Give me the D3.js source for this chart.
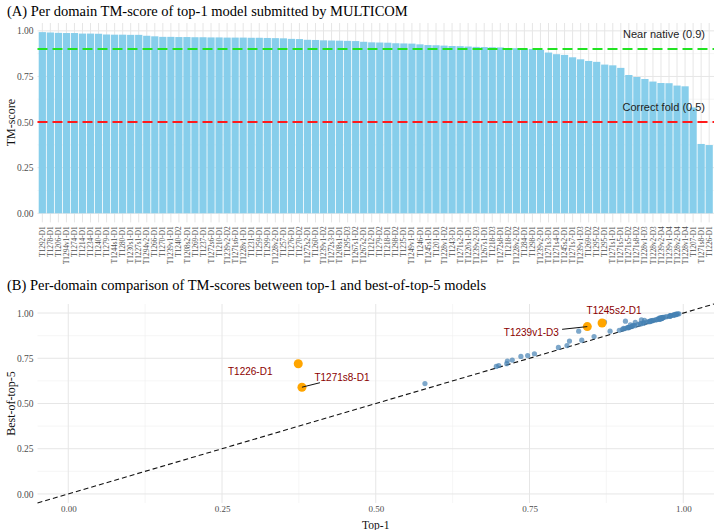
<!DOCTYPE html>
<html>
<head>
<meta charset="utf-8">
<script src="https://cdn.jsdelivr.net/npm/d3@7"></script>
<style>
body { margin: 0; background: #fff; }
text { font-family: "Liberation Serif", "DejaVu Serif", serif; }
</style>
</head>
<body>
<div id="chart"></div>
<script>
var W = 720, H = 530

// domains, in the order of the bars (sorted by top-1 TM-score)
var domains = ["T1292-D1","T1278-D1","T1206-D1","T1294v1-D1","T1274-D1","T1214-D1","T1234-D1","T1240-D1","T1279-D1","T1244s1-D1",
  "T1280-D1","T1230s1-D1","T1227s1-D1","T1294v2-D1","T1266-D1","T1270-D1","T1239v1-D1","T1240-D2","T1208s2-D1","T1269-D1",
  "T1237-D1","T1272s6-D1","T1210-D1","T1239v2-D2","T1271s6-D1","T1228v1-D1","T1231-D1","T1259-D1","T1299-D1","T1228v2-D1",
  "T1257-D1","T1276-D1","T1270-D2","T1272s2-D1","T1260-D1","T1239v1-D2","T1272s3-D1","T1208s1-D1","T1295-D3","T1267s1-D2",
  "T1267s2-D1","T1212-D1","T1279-D2","T1218-D1","T1298-D2","T1235-D1","T1249v1-D1","T1246-D1","T1245s1-D1","T1201-D1",
  "T1228v1-D2","T1243-D1","T1271s2-D1","T1220s1-D1","T1239v2-D3","T1267s1-D1","T1218-D3","T1272s8-D1","T1218-D2","T1228v2-D2",
  "T1284-D1","T1298-D1","T1239v2-D1","T1271s3-D1","T1271s4-D1","T1245s2-D1","T1271s7-D1","T1239v1-D3","T1269-D2","T1295-D2",
  "T1295-D1","T1271s1-D1","T1271s5-D1","T1271s5-D2","T1271s8-D2","T1228v1-D3","T1228v2-D3","T1239v2-D4","T1239v1-D4","T1228v2-D4",
  "T1228v1-D4","T1207-D1","T1271s8-D1","T1226-D1"]

// TM-score of the top-1 model
var top1 = [0.993,0.991,0.989,0.988,0.988,0.985,0.985,0.984,0.980,0.979,
  0.979,0.978,0.978,0.973,0.970,0.967,0.967,0.966,0.966,0.965,
  0.965,0.964,0.964,0.963,0.963,0.963,0.962,0.962,0.961,0.960,
  0.959,0.956,0.955,0.951,0.950,0.948,0.947,0.946,0.945,0.944,
  0.940,0.937,0.936,0.935,0.932,0.931,0.930,0.926,0.922,0.921,
  0.919,0.917,0.916,0.914,0.912,0.911,0.910,0.909,0.906,0.905,
  0.903,0.901,0.896,0.881,0.872,0.868,0.855,0.844,0.835,0.830,
  0.815,0.811,0.797,0.758,0.747,0.736,0.722,0.714,0.713,0.700,
  0.696,0.580,0.380,0.374]

// TM-score of the best of the top-5 models
var best5 = [0.996,0.995,0.993,0.994,0.991,0.990,0.989,0.988,0.986,0.985,
  0.984,0.984,0.982,0.980,0.978,0.975,0.976,0.972,0.974,0.971,
  0.973,0.969,0.970,0.971,0.968,0.975,0.967,0.969,0.966,0.970,
  0.965,0.963,0.962,0.960,0.958,0.957,0.955,0.956,0.952,0.953,
  0.950,0.960,0.945,0.944,0.962,0.940,0.942,0.936,0.948,0.930,
  0.932,0.928,0.925,0.935,0.921,0.920,0.918,0.920,0.955,0.914,
  0.915,0.910,0.905,0.900,0.950,0.945,0.870,0.925,0.850,0.900,
  0.845,0.820,0.810,0.775,0.765,0.760,0.740,0.735,0.720,0.710,
  0.705,0.610,0.590,0.720]

var highlight = ["T1245s2-D1","T1239v1-D3","T1226-D1","T1271s8-D1"]
// label offsets (pixels) for the highlighted domains
var labelDx = [12, -56, -48, 40]
var labelDy = [-12, 6, 8, -10]

var tmTicks = [0, 0.25, 0.5, 0.75, 1]
var tmMinor = [0.125, 0.375, 0.625, 0.875]
var refValues = [0.9, 0.5]
var refLabels = ["Near native (0.9)", "Correct fold (0.5)"]
var refColors = ["#22e322", "#ff1a1a"]

var svg = d3.select("#chart").append("svg").attr("width", W).attr("height", H)

// ---------- panel A : bars ----------
var A = {left: 37.5, right: 714, top: 23, bottom: 222.4}

var xA = d3.scaleBand().domain(domains).range([A.left, A.right])
  .paddingInner(0.1).paddingOuter(0.15)
var yA = d3.scaleLinear().domain([-0.05, 1.043]).range([A.bottom, A.top])

var gA = svg.append("g")

gA.selectAll(".minorA").data(tmMinor).enter().append("line")
  .attr("x1", A.left).attr("x2", A.right)
  .attr("y1", function(d) { return yA(d) }).attr("y2", function(d) { return yA(d) })
  .attr("stroke", "#f0f0f0").attr("stroke-width", 0.6)
gA.selectAll(".majorA").data(tmTicks).enter().append("line")
  .attr("x1", A.left).attr("x2", A.right)
  .attr("y1", function(d) { return yA(d) }).attr("y2", function(d) { return yA(d) })
  .attr("stroke", "#e6e6e6").attr("stroke-width", 1)
gA.selectAll(".vgridA").data(domains).enter().append("line")
  .attr("x1", function(d) { return xA(d) + xA.bandwidth() / 2 })
  .attr("x2", function(d) { return xA(d) + xA.bandwidth() / 2 })
  .attr("y1", A.top).attr("y2", A.bottom)
  .attr("stroke", "#e6e6e6").attr("stroke-width", 1)

gA.selectAll(".bar").data(domains).enter().append("rect")
  .attr("class", "bar")
  .attr("x", function(d) { return xA(d) })
  .attr("width", xA.bandwidth())
  .attr("y", function(d, i) { return yA(top1[i]) })
  .attr("height", function(d, i) { return yA(0) - yA(top1[i]) })
  .attr("fill", "#87ceeb")

// threshold lines
refValues.forEach(function(v, i) {
  gA.append("line")
    .attr("x1", A.left).attr("x2", A.right)
    .attr("y1", yA(v)).attr("y2", yA(v))
    .attr("stroke", refColors[i]).attr("stroke-width", 2)
    .attr("stroke-dasharray", "10,5")
  gA.append("text")
    .attr("x", 705).attr("y", yA(v) - 11)
    .attr("text-anchor", "end")
    .style("font-family", "'Liberation Sans', Arial, sans-serif")
    .attr("font-size", 11).attr("fill", "#222")
    .text(refLabels[i])
})

// y axis
var yAxisA = d3.axisLeft(yA).tickValues(tmTicks).tickFormat(d3.format(".2f")).tickSize(0).tickPadding(4)
gA.append("g").attr("transform", "translate(" + A.left + ",0)").call(yAxisA)
  .call(function(g) { g.select(".domain").remove() })
  .selectAll("text").attr("font-size", 9.5).attr("fill", "#4d4d4d")
  .style("font-family", "'Liberation Serif', serif")

// x axis (rotated domain labels)
var xAxisA = d3.axisBottom(xA).tickSize(0).tickPadding(0)
gA.append("g").attr("transform", "translate(0," + A.bottom + ")").call(xAxisA)
  .call(function(g) { g.select(".domain").remove() })
  .selectAll("text")
  .attr("transform", "rotate(-90)")
  .attr("x", -4).attr("y", 0).attr("dy", "0.35em")
  .attr("text-anchor", "end")
  .attr("font-size", 7.3).attr("fill", "#4d4d4d")
  .style("font-family", "'Liberation Serif', serif")

gA.append("text")
  .attr("transform", "translate(15," + (A.top + A.bottom) / 2 + ") rotate(-90)")
  .attr("text-anchor", "middle").attr("font-size", 12).attr("fill", "#111")
  .text("TM-score")

svg.append("text").attr("x", 7).attr("y", 16)
  .attr("font-size", 14.5).attr("fill", "#000")
  .text("(A) Per domain TM-score of top-1 model submitted by MULTICOM")

// ---------- panel B : scatter ----------
var B = {left: 37.5, right: 714, top: 304, bottom: 503}

var xB = d3.scaleLinear().domain([-0.05, 1.05]).range([B.left, B.right])
var yB = d3.scaleLinear().domain([-0.05, 1.05]).range([B.bottom, B.top])

var gB = svg.append("g")

gB.selectAll(".minorBx").data(tmMinor).enter().append("line")
  .attr("x1", function(d) { return xB(d) }).attr("x2", function(d) { return xB(d) })
  .attr("y1", B.top).attr("y2", B.bottom)
  .attr("stroke", "#f0f0f0").attr("stroke-width", 0.6)
gB.selectAll(".minorBy").data(tmMinor).enter().append("line")
  .attr("x1", B.left).attr("x2", B.right)
  .attr("y1", function(d) { return yB(d) }).attr("y2", function(d) { return yB(d) })
  .attr("stroke", "#f0f0f0").attr("stroke-width", 0.6)
gB.selectAll(".majorBx").data(tmTicks).enter().append("line")
  .attr("x1", function(d) { return xB(d) }).attr("x2", function(d) { return xB(d) })
  .attr("y1", B.top).attr("y2", B.bottom)
  .attr("stroke", "#e6e6e6").attr("stroke-width", 1)
gB.selectAll(".majorBy").data(tmTicks).enter().append("line")
  .attr("x1", B.left).attr("x2", B.right)
  .attr("y1", function(d) { return yB(d) }).attr("y2", function(d) { return yB(d) })
  .attr("stroke", "#e6e6e6").attr("stroke-width", 1)

// y = x reference
gB.append("line")
  .attr("x1", xB(-0.05)).attr("y1", yB(-0.05))
  .attr("x2", xB(1.05)).attr("y2", yB(1.05))
  .attr("stroke", "#111").attr("stroke-width", 1.1)
  .attr("stroke-dasharray", "5,3")

var pts = domains.map(function(d, i) { return {name: d, x: top1[i], y: best5[i]} })
var others = pts.filter(function(p) { return highlight.indexOf(p.name) < 0 })
var hi = highlight.map(function(h, k) {
  var p = pts.find(function(q) { return q.name === h })
  return {name: h, x: p.x, y: p.y, dx: labelDx[k], dy: labelDy[k]}
})

gB.selectAll(".pt").data(others).enter().append("circle")
  .attr("cx", function(d) { return xB(d.x) })
  .attr("cy", function(d) { return yB(d.y) })
  .attr("r", 2.6)
  .attr("fill", "#4682b4").attr("fill-opacity", 0.7)

gB.selectAll(".hi").data(hi).enter().append("circle")
  .attr("cx", function(d) { return xB(d.x) })
  .attr("cy", function(d) { return yB(d.y) })
  .attr("r", 4.5)
  .attr("fill", "#ffa500")

// label segments for labels far from their point
gB.selectAll(".seg").data(hi.filter(function(d) { return Math.abs(d.dx) > 30 && d.name !== "T1226-D1" })).enter().append("line")
  .attr("x1", function(d) { return xB(d.x) })
  .attr("y1", function(d) { return yB(d.y) })
  .attr("x2", function(d) { return xB(d.x) + d.dx * 0.45 })
  .attr("y2", function(d) { return yB(d.y) + d.dy * 0.45 })
  .attr("stroke", "#111").attr("stroke-width", 1)

gB.selectAll(".lbl").data(hi).enter().append("text")
  .attr("x", function(d) { return xB(d.x) + d.dx })
  .attr("y", function(d) { return yB(d.y) + d.dy })
  .attr("dy", "0.35em")
  .attr("text-anchor", "middle")
  .style("font-family", "'Liberation Sans', Arial, sans-serif")
  .attr("font-size", 10).attr("fill", "#8b0000")
  .text(function(d) { return d.name })

var xAxisB = d3.axisBottom(xB).tickValues(tmTicks).tickFormat(d3.format(".2f")).tickSize(0).tickPadding(3)
gB.append("g").attr("transform", "translate(0," + B.bottom + ")").call(xAxisB)
  .call(function(g) { g.select(".domain").remove() })
  .selectAll("text").attr("font-size", 9).attr("fill", "#4d4d4d")
  .style("font-family", "'Liberation Serif', serif")

var yAxisB = d3.axisLeft(yB).tickValues(tmTicks).tickFormat(d3.format(".2f")).tickSize(0).tickPadding(4)
gB.append("g").attr("transform", "translate(" + B.left + ",0)").call(yAxisB)
  .call(function(g) { g.select(".domain").remove() })
  .selectAll("text").attr("font-size", 9.5).attr("fill", "#4d4d4d")
  .style("font-family", "'Liberation Serif', serif")

gB.append("text")
  .attr("transform", "translate(15," + (B.top + B.bottom) / 2 + ") rotate(-90)")
  .attr("text-anchor", "middle").attr("font-size", 12).attr("fill", "#111")
  .text("Best-of-top-5")

gB.append("text")
  .attr("x", (B.left + B.right) / 2).attr("y", 528.5)
  .attr("text-anchor", "middle").attr("font-size", 11.5).attr("fill", "#111")
  .text("Top-1")

svg.append("text").attr("x", 7).attr("y", 290)
  .attr("font-size", 14.5).attr("fill", "#000")
  .text("(B) Per-domain comparison of TM-scores between top-1 and best-of-top-5 models")
</script>
</body>
</html>
